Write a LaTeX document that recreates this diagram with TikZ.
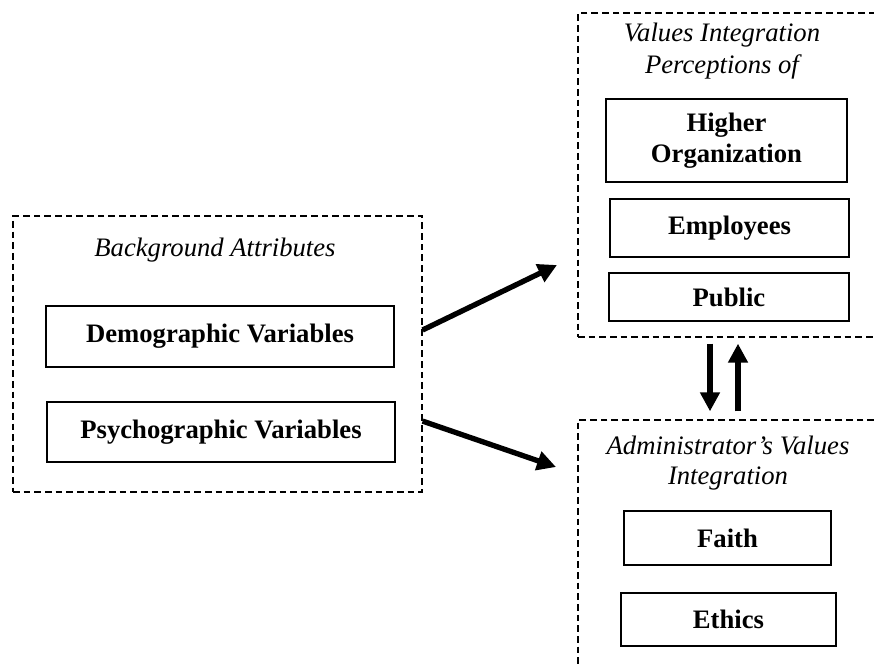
\documentclass[tikz,border=0pt]{standalone}
\usepackage{fontspec}
\setmainfont{Liberation Serif}
\usetikzlibrary{arrows.meta, positioning, calc}

\begin{document}
\begin{tikzpicture}[x=0.45pt, y=-0.45pt,
    groupbox/.style={draw, dash pattern=on 3pt off 1.8pt, line width=0.6pt, inner sep=0pt},
    varbox/.style={draw, line width=0.8pt, inner sep=0pt, align=center, font=\fontsize{12pt}{14pt}\selectfont\bfseries},
    grouptitle/.style={align=center, font=\fontsize{12pt}{14.4pt}\selectfont\itshape},
    flow/.style={-{Triangle[length=8.5pt, width=8.5pt]}, line width=2.4pt}]

    % Page frame (right boxes run off the page)
    \useasboundingbox (0,0) rectangle (874,665);
    \clip (0,0) rectangle (874,665);

    % Background attributes
    \node[groupbox, minimum width=184pt, minimum height=124.2pt] (attr) at (217.5,354) {};
    \node[grouptitle] (attrtitle) at (215,250) {Background Attributes};
    \node[varbox, minimum width=156.6pt, minimum height=27.5pt] (demo) at (220,336.5) {Demographic Variables};
    \node[varbox, minimum width=156.6pt, minimum height=27pt] (psycho) at (221,432) {Psychographic Variables};

    % Perceptions of values integration
    \node[groupbox, minimum width=140.4pt, minimum height=145.8pt] (perc) at (734,175) {};
    \node[grouptitle] (perctitle) at (722,51) {Values Integration\\Perceptions of};
    \node[varbox, minimum width=108.5pt, minimum height=37.4pt] (higher) at (726.5,140.5) {Higher\\Organization};
    \node[varbox, minimum width=107.6pt, minimum height=26.1pt] (employees) at (729.5,228) {Employees};
    \node[varbox, minimum width=108pt, minimum height=21.6pt] (public) at (729,297) {Public};

    % Administrator's values integration
    \node[groupbox, minimum width=140.4pt, minimum height=126pt] (adm) at (734,560) {};
    \node[grouptitle, font=\fontsize{12pt}{13.5pt}\selectfont\itshape] (admtitle) at (728,463) {Administrator’s Values\\Integration};
    \node[varbox, minimum width=93.2pt, minimum height=24.3pt] (faith) at (727.5,538) {Faith};
    \node[varbox, minimum width=96.8pt, minimum height=23.9pt] (ethics) at (728.5,619.5) {Ethics};

    % Arrow ends
    \coordinate (tperc) at (557,265);
    \coordinate (tadm) at (556,467);

    % Links
    \draw[flow] ([yshift=10.8pt]attr.east) -- (tperc);
    \draw[flow] ([yshift=-30.2pt]attr.east) -- (tadm);
    \draw[flow, shorten <=2.7pt, shorten >=3.6pt] ([xshift=-10.8pt]perc.south) -- ([xshift=-10.8pt]adm.north);
    \draw[flow, shorten <=3.6pt, shorten >=2.7pt] ([xshift=1.8pt]adm.north) -- ([xshift=1.8pt]perc.south);

\end{tikzpicture}
\end{document}
